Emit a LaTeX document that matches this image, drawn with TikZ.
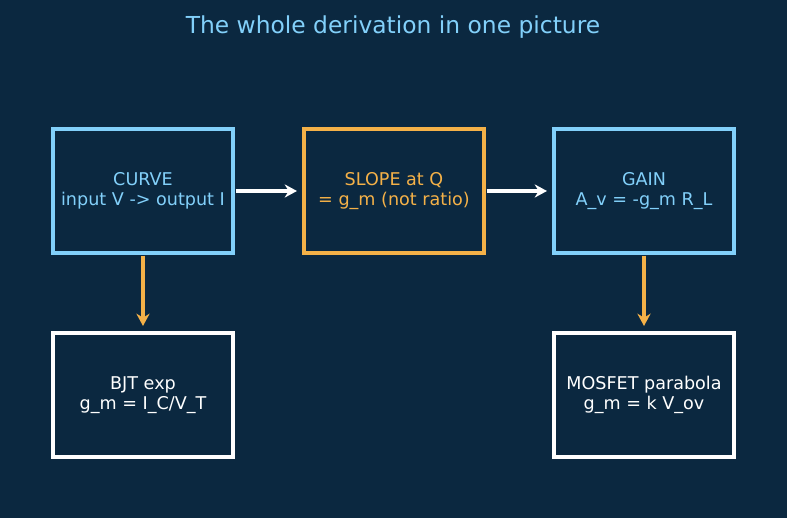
\documentclass[tikz,border=0pt]{standalone}
\usepackage{fontspec}
\setmainfont{DejaVu Sans}
\usepackage{xcolor}
\definecolor{bgnavy}{RGB}{11,40,64}
\definecolor{dvblue}{RGB}{130,208,250}
\definecolor{dvorange}{RGB}{244,177,72}
\usetikzlibrary{arrows.meta,positioning}

\begin{document}
\begin{tikzpicture}[
    stagebox/.style={rectangle, draw, line width=2pt, minimum width=3.6cm,
                     minimum height=2.48cm, inner sep=4pt, font=\fontsize{10}{11.5}\selectfont, align=center},
    flow/.style={-{Stealth[length=7pt,width=7.5pt]}, line width=1.9pt, shorten >=3pt, shorten <=0.5pt},
    >=Stealth
  ]
    % Background
    \fill[bgnavy] (0,0) rectangle (15.74,10.36);
    \useasboundingbox (0,0) rectangle (15.74,10.36);

    % Title
    \node[font=\fontsize{13.3}{15}\selectfont, text=dvblue] (title) at (7.86,9.81)
      {The whole derivation in one picture};

    % Top row
    \node[stagebox, draw=dvblue, text=dvblue] (curve) at (2.86,6.54)
      {CURVE\\input V -> output I};
    \node[stagebox, draw=dvorange, text=dvorange] (slope) at (7.88,6.54)
      {SLOPE at Q\\= g\_m (not ratio)};
    \node[stagebox, draw=dvblue, text=dvblue] (gain) at (12.88,6.54)
      {GAIN\\A\_v = -g\_m R\_L};

    % Bottom row
    \node[stagebox, draw=white, text=white] (bjt) at (2.86,2.46)
      {BJT exp\\g\_m = I\_C/V\_T};
    \node[stagebox, draw=white, text=white] (mosfet) at (12.88,2.46)
      {MOSFET parabola\\g\_m = k V\_ov};

    % Arrows
    \draw[flow, white] (curve) -- (slope);
    \draw[flow, white] (slope) -- (gain);
    \draw[flow, dvorange] (curve) -- (bjt);
    \draw[flow, dvorange] (gain) -- (mosfet);
  \end{tikzpicture}
\end{document}
